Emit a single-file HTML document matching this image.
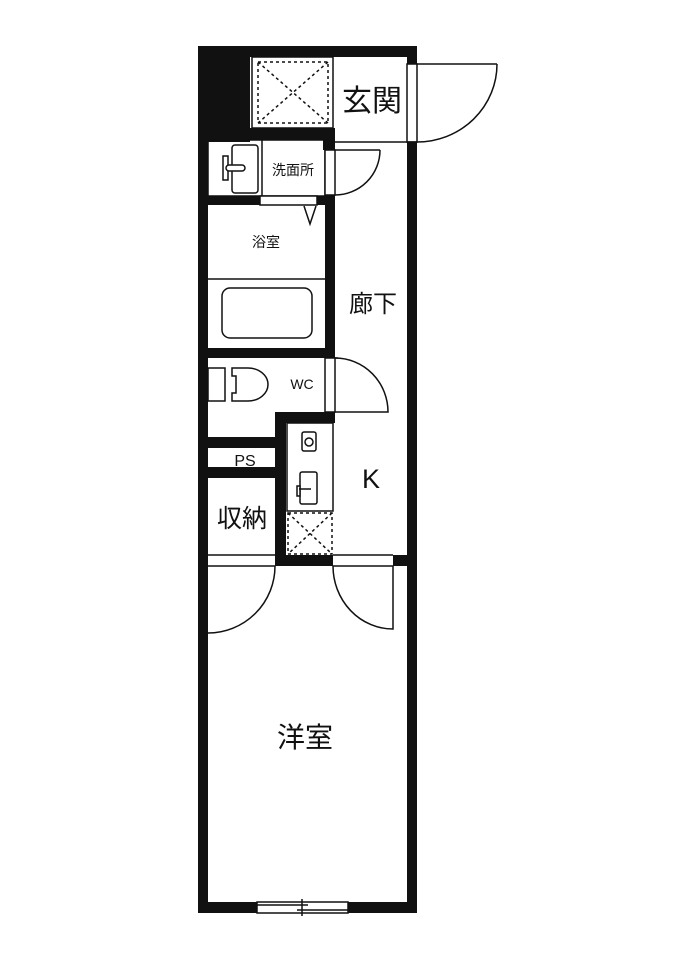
<!DOCTYPE html>
<html><head><meta charset="utf-8"><style>
html,body{margin:0;padding:0;background:#fff;}
svg{display:block;}
text{font-family:"Liberation Sans","Noto Sans CJK JP",sans-serif;fill:#111;}
</style></head><body>
<svg width="700" height="954" viewBox="0 0 700 954" xmlns="http://www.w3.org/2000/svg">
<g fill="#111">
<!-- outer walls -->
<rect x="198" y="46" width="219" height="11"/>
<rect x="198" y="46" width="10" height="867"/>
<rect x="198" y="902" width="219" height="11"/>
<rect x="407" y="46" width="10" height="18"/>
<rect x="407" y="142" width="10" height="771"/>
<!-- top left block -->
<rect x="198" y="46" width="52" height="96"/>
<rect x="248" y="128" width="87" height="12"/>
<rect x="323" y="128" width="12" height="22"/>
<!-- washroom bottom wall -->
<rect x="208" y="196" width="127" height="9"/>
<rect x="325" y="195" width="10" height="163"/>
<!-- bath bottom wall -->
<rect x="208" y="348" width="127" height="10"/>
<!-- WC right wall lower -->
<rect x="275" y="412" width="60" height="11"/>
<rect x="325" y="412" width="10" height="11"/>
<rect x="208" y="437" width="67" height="11"/>
<rect x="208" y="467" width="67" height="11"/>
<rect x="275" y="412" width="11" height="154"/>
<rect x="275" y="555" width="58" height="11"/>
<rect x="393" y="555" width="14" height="11"/>
</g>
<g fill="none" stroke="#111" stroke-width="1.5">
<!-- entrance door -->
<rect x="407" y="64" width="10" height="78" fill="#fff"/>
<line x1="417" y1="64" x2="497" y2="64"/>
<path d="M497 64 A80 78 0 0 1 417 142"/>
<line x1="335" y1="142" x2="417" y2="142"/>
<!-- shoe box -->
<rect x="252" y="57" width="81" height="71"/>
<g stroke-dasharray="3,3">
<rect x="258" y="62" width="70" height="61"/>
<line x1="258" y1="62" x2="328" y2="123"/>
<line x1="328" y1="62" x2="258" y2="123"/>
</g>
<!-- washroom -->
<rect x="208" y="140" width="117" height="56"/>
<line x1="262" y1="140" x2="262" y2="196"/>
<rect x="232" y="145" width="26" height="48" rx="3"/>
<rect x="223" y="156" width="5" height="24" fill="#fff"/>
<rect x="226" y="165" width="19" height="6" rx="3" fill="#fff"/>
<rect x="325" y="150" width="10" height="45" fill="#fff"/>
<line x1="335" y1="150" x2="380" y2="150"/>
<path d="M380 150 A45 45 0 0 1 335 195"/>
<rect x="260" y="196" width="57" height="9" fill="#fff"/>
<path d="M304 206 L310 224 L316 206"/>
<!-- bath -->
<line x1="208" y1="279" x2="325" y2="279"/>
<rect x="222" y="288" width="90" height="50" rx="8"/>
<!-- WC -->
<rect x="208" y="368" width="17" height="33"/>
<path d="M232 368 H248 A20 16.5 0 0 1 248 401 H232 V393 H236 V376 H232 Z"/>
<rect x="325" y="358" width="10" height="54" fill="#fff"/>
<line x1="335" y1="358" x2="338" y2="358"/>
<path d="M335 358 A53 54 0 0 1 388 412 L335 412"/>
<!-- kitchen -->
<rect x="287" y="423" width="46" height="88"/>
<rect x="302" y="432" width="14" height="19" rx="2"/>
<circle cx="309" cy="442" r="4"/>
<rect x="300" y="472" width="17" height="32" rx="2"/>
<rect x="297" y="486" width="3" height="10" fill="#fff"/>
<line x1="299" y1="489" x2="311" y2="489"/>
<g stroke-dasharray="3,3">
<rect x="288" y="513" width="44" height="41"/>
<line x1="288" y1="513" x2="332" y2="554"/>
<line x1="332" y1="513" x2="288" y2="554"/>
</g>
<!-- storage doors -->
<line x1="208" y1="555" x2="275" y2="555"/>
<line x1="208" y1="566" x2="275" y2="566"/>
<path d="M275 566 A67 67 0 0 1 208 633"/>
<!-- room door -->
<line x1="333" y1="555" x2="393" y2="555"/>
<line x1="333" y1="566" x2="393" y2="566"/>
<path d="M333 566 A60 63 0 0 0 393 629 V566"/>
<!-- window -->
<rect x="257" y="902" width="91" height="11" fill="#fff"/>
<line x1="257" y1="905" x2="308" y2="905"/>
<line x1="297" y1="910" x2="348" y2="910"/>
<line x1="302" y1="899" x2="302" y2="916"/>
</g>
<text x="372" y="111" font-size="30" text-anchor="middle">玄関</text>
<text x="293" y="175" font-size="14" text-anchor="middle">洗面所</text>
<text x="266" y="247" font-size="14" text-anchor="middle">浴室</text>
<text x="373" y="312" font-size="24" text-anchor="middle">廊下</text>
<text x="302" y="389" font-size="14" text-anchor="middle">WC</text>
<text x="245" y="466" font-size="16" text-anchor="middle">PS</text>
<text x="242" y="527" font-size="25" text-anchor="middle">収納</text>
<text x="371" y="488" font-size="27" text-anchor="middle">K</text>
<text x="305" y="747" font-size="28" text-anchor="middle">洋室</text>
</svg>
</body></html>
